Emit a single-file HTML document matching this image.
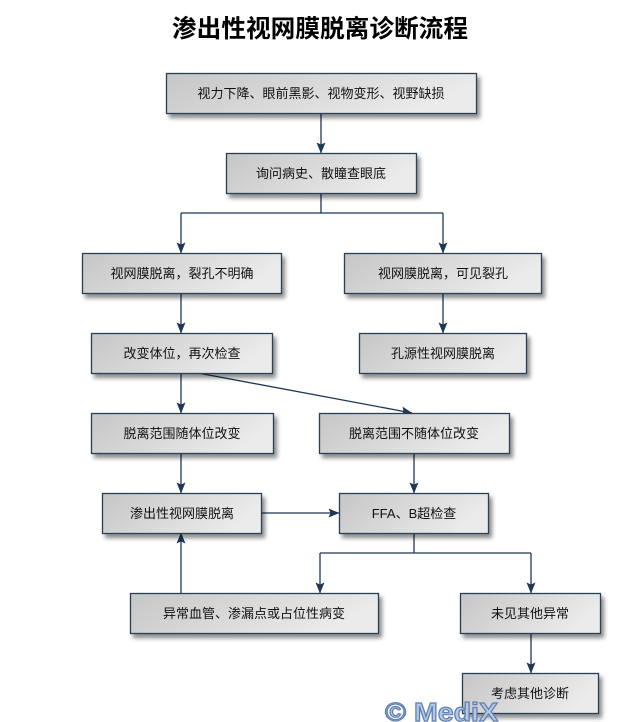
<!DOCTYPE html>
<html>
<head>
<meta charset="utf-8">
<style>
html,body{margin:0;padding:0;background:#fff;}
svg{display:block;}
text{font-family:"Liberation Sans","Noto Sans CJK SC",sans-serif;}
</style>
</head>
<body>
<svg width="642" height="722" viewBox="0 0 642 722" xmlns="http://www.w3.org/2000/svg">
<defs>
<linearGradient id="g" x1="0" y1="0" x2="1" y2="0.3">
<stop offset="0" stop-color="#c6c6c6"/>
<stop offset="1" stop-color="#ebebeb"/>
</linearGradient>
<filter id="sh" x="-10%" y="-20%" width="130%" height="160%">
<feDropShadow dx="3" dy="4" stdDeviation="2.2" flood-color="#000" flood-opacity="0.45"/>
</filter>
<marker id="ah" markerWidth="11" markerHeight="9" refX="10.5" refY="4.5" orient="auto" markerUnits="userSpaceOnUse">
<path d="M0,0 L11,4.5 L0,9 L2,4.5 Z" fill="#1f3856"/>
</marker>
</defs>

<text x="320" y="37" text-anchor="middle" font-size="24.5" font-weight="bold" fill="#000" textLength="296" lengthAdjust="spacingAndGlyphs">渗出性视网膜脱离诊断流程</text>

<g stroke="#1f3856" stroke-width="1.3" fill="none">
<line x1="321" y1="113" x2="321" y2="153" marker-end="url(#ah)"/>
<polyline points="321,193 321,213"/>
<polyline points="181,213 443,213"/>
<line x1="181" y1="213" x2="181" y2="253" marker-end="url(#ah)"/>
<line x1="443" y1="213" x2="443" y2="253" marker-end="url(#ah)"/>
<line x1="181" y1="293" x2="181" y2="333" marker-end="url(#ah)"/>
<line x1="443" y1="293" x2="443" y2="333" marker-end="url(#ah)"/>
<line x1="181" y1="373" x2="181" y2="413" marker-end="url(#ah)"/>
<line x1="198" y1="373" x2="412" y2="413" marker-end="url(#ah)"/>
<line x1="181" y1="453" x2="181" y2="493" marker-end="url(#ah)"/>
<line x1="414" y1="453" x2="414" y2="493" marker-end="url(#ah)"/>
<line x1="261" y1="513" x2="339" y2="513" marker-end="url(#ah)"/>
<line x1="181" y1="593" x2="181" y2="533" marker-end="url(#ah)"/>
<polyline points="414,533 414,553"/>
<polyline points="320,553 531,553"/>
<line x1="320" y1="553" x2="320" y2="593" marker-end="url(#ah)"/>
<line x1="531" y1="553" x2="531" y2="593" marker-end="url(#ah)"/>
<line x1="531" y1="633" x2="531" y2="673" marker-end="url(#ah)"/>
</g>

<g stroke="#2b3f55" stroke-width="1.3" fill="url(#g)" filter="url(#sh)">
<rect x="166.5" y="73.5" width="310" height="40"/>
<rect x="226.5" y="153.5" width="190" height="40"/>
<rect x="82.5" y="253.5" width="199" height="40"/>
<rect x="344.5" y="253.5" width="197" height="40"/>
<rect x="91.5" y="333.5" width="181" height="40"/>
<rect x="359.5" y="333.5" width="167" height="40"/>
<rect x="91.5" y="413.5" width="182" height="40"/>
<rect x="319.5" y="413.5" width="190" height="40"/>
<rect x="102.5" y="493.5" width="159" height="40"/>
<rect x="339.5" y="493.5" width="149" height="40"/>
<rect x="130.5" y="593.5" width="248" height="40"/>
<rect x="460.5" y="593.5" width="140" height="40"/>
<rect x="462.5" y="673.5" width="136" height="40"/>
</g>

<g font-size="13" fill="#111" text-anchor="middle">
<text x="321" y="98">视力下降、眼前黑影、视物变形、视野缺损</text>
<text x="321" y="178">询问病史、散瞳查眼底</text>
<text x="182" y="278">视网膜脱离，裂孔不明确</text>
<text x="443" y="278">视网膜脱离，可见裂孔</text>
<text x="182" y="358">改变体位，再次检查</text>
<text x="443" y="358">孔源性视网膜脱离</text>
<text x="182" y="438">脱离范围随体位改变</text>
<text x="414" y="438">脱离范围不随体位改变</text>
<text x="182" y="518">渗出性视网膜脱离</text>
<text x="414" y="518">FFA、B超检查</text>
<text x="254" y="618">异常血管、渗漏点或占位性病变</text>
<text x="530" y="618">未见其他异常</text>
<text x="530" y="698">考虑其他诊断</text>
</g>

<text x="385" y="721" font-size="26" font-weight="bold" fill="#b4c8e6" stroke="#5f80b0" stroke-width="1.2" textLength="113" lengthAdjust="spacingAndGlyphs">© MediX</text>
</svg>
</body>
</html>
